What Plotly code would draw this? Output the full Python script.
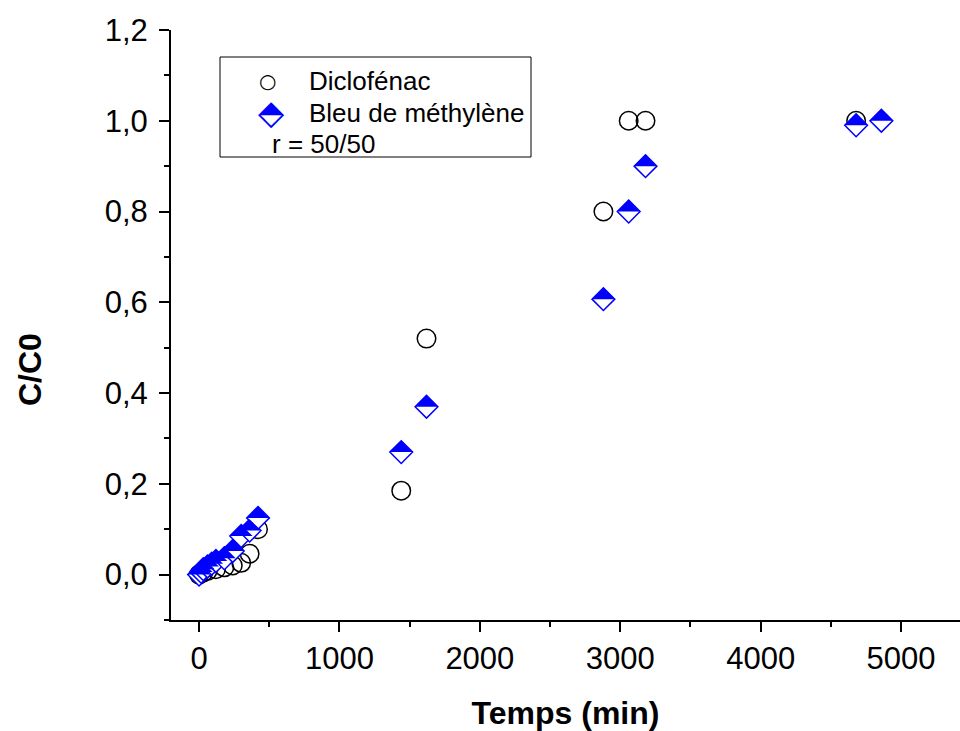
import plotly.graph_objects as go

# ---------------- data ----------------
dcf_time = [0, 30, 60, 120, 180, 240, 300, 360, 420, 1440, 1620, 2880, 3060, 3180, 4680]
dcf_ratio = [0.000, 0.005, 0.008, 0.012, 0.016, 0.020, 0.026, 0.046, 0.100, 0.185, 0.520, 0.800, 1.000, 1.000, 1.000]

mb_time = [0, 15, 30, 60, 90, 120, 180, 240, 300, 360, 420, 1440, 1620, 2880, 3060, 3180, 4680, 4860]
mb_ratio = [0.000, 0.006, 0.012, 0.018, 0.024, 0.030, 0.036, 0.052, 0.085, 0.097, 0.125, 0.270, 0.370, 0.607, 0.800, 0.900, 0.990, 1.000]

x_ticks = [0, 1000, 2000, 3000, 4000, 5000]
y_ticks = [0.0, 0.2, 0.4, 0.6, 0.8, 1.0, 1.2]

series_names = ["Diclofénac", "Bleu de méthylène"]
ratio_label = "r = 50/50"
x_title = "Temps (min)"
y_title = "C/C0"

# ---------------- layout geometry ----------------
W, H = 960, 731
ML, MR, MT, MB = 171, 0, 30, 111
PW, PH = W - ML - MR, H - MT - MB
x_range = [-200, 5420]
y_range = [-0.1, 1.2]

FONT = "Liberation Sans, Arial, sans-serif"
BLUE = "#0000FF"

DIAMOND_SIZE = 17.5
TRI_SIZE = DIAMOND_SIZE * 1.3 / 1.273
# rotated right-triangle base sits 0.424*r below marker centre -> lift it
lift_px = 0.424 * TRI_SIZE / 2
dy = lift_px * (y_range[1] - y_range[0]) / PH


def px_x(px):
    """page pixel x -> paper fraction"""
    return (px - ML) / PW


def px_y(py):
    """page pixel y -> paper fraction"""
    return (MT + PH - py) / PH


fig = go.Figure()

fig.add_trace(go.Scatter(
    x=dcf_time, y=dcf_ratio, mode="markers", name=series_names[0],
    marker=dict(symbol="circle-open", size=18.5, color="black", line=dict(color="black", width=1.5)),
))
fig.add_trace(go.Scatter(
    x=mb_time, y=mb_ratio, mode="markers", name=series_names[1],
    marker=dict(symbol="diamond", size=DIAMOND_SIZE, color="white", line=dict(color=BLUE, width=1.5)),
))
# upper filled half of the diamonds
fig.add_trace(go.Scatter(
    x=mb_time, y=mb_ratio, mode="markers", name=series_names[1], yaxis="y2",
    marker=dict(symbol="triangle-ne", angle=-45, size=TRI_SIZE, color=BLUE, line=dict(width=0)),
))

axis_common = dict(
    showline=True, linecolor="black", linewidth=2, mirror=False,
    ticks="outside", ticklen=10, tickwidth=2, tickcolor="black",
    showgrid=False, zeroline=False,
    tickfont=dict(family=FONT, size=31, color="black"),
)

fig.update_layout(
    width=W, height=H,
    margin=dict(l=ML, r=MR, t=MT, b=MB, pad=0),
    paper_bgcolor="white", plot_bgcolor="white",
    showlegend=False,
    separators=", ",
    font=dict(family=FONT, color="black"),
    xaxis=dict(
        range=x_range, tickvals=x_ticks, **axis_common,
        minor=dict(ticks="outside", ticklen=5, tickwidth=2, tickcolor="black", dtick=500, tick0=0),
        title=dict(text="<b>%s</b>" % x_title, font=dict(family=FONT, size=32, color="black"), standoff=26),
    ),
    yaxis=dict(
        range=y_range, tickvals=y_ticks, tickformat=".1f", ticklabelstandoff=5, **axis_common,
        minor=dict(ticks="outside", ticklen=5, tickwidth=2, tickcolor="black", dtick=0.1, tick0=0),
    ),
    yaxis2=dict(
        overlaying="y", range=[y_range[0] - dy, y_range[1] - dy], visible=False,
    ),
)

# y-axis title
fig.add_annotation(
    x=px_x(30), y=px_y(370), xref="paper", yref="paper",
    text="<b>%s</b>" % y_title, textangle=-90, showarrow=False,
    font=dict(family=FONT, size=32, color="black"), xanchor="center", yanchor="middle",
)

# legend box
fig.add_shape(type="rect", xref="paper", yref="paper",
              x0=px_x(220), x1=px_x(531), y0=px_y(157), y1=px_y(57),
              line=dict(color="black", width=1), fillcolor="rgba(0,0,0,0)")

fig.add_annotation(x=px_x(267), y=px_y(81), xref="paper", yref="paper", text="○", showarrow=False,
                   font=dict(family="DejaVu Sans", size=20, color="black"), xanchor="center", yanchor="middle")
fig.add_annotation(x=px_x(271), y=px_y(112), xref="paper", yref="paper", text="⬘", showarrow=False,
                   font=dict(family="DejaVu Sans", size=34, color=BLUE), xanchor="center", yanchor="middle")

for txt, px, py in [(series_names[0], 307, 81), (series_names[1], 307, 113), (ratio_label, 270, 144)]:
    fig.add_annotation(x=px_x(px), y=px_y(py), xref="paper", yref="paper", text=txt, showarrow=False,
                       font=dict(family=FONT, size=26, color="black"), xanchor="left", yanchor="middle")

fig.write_html(
    "out.html",
    config={"displayModeBar": False},
    post_script="document.body.style.margin='0';document.body.style.overflow='hidden';",
)
